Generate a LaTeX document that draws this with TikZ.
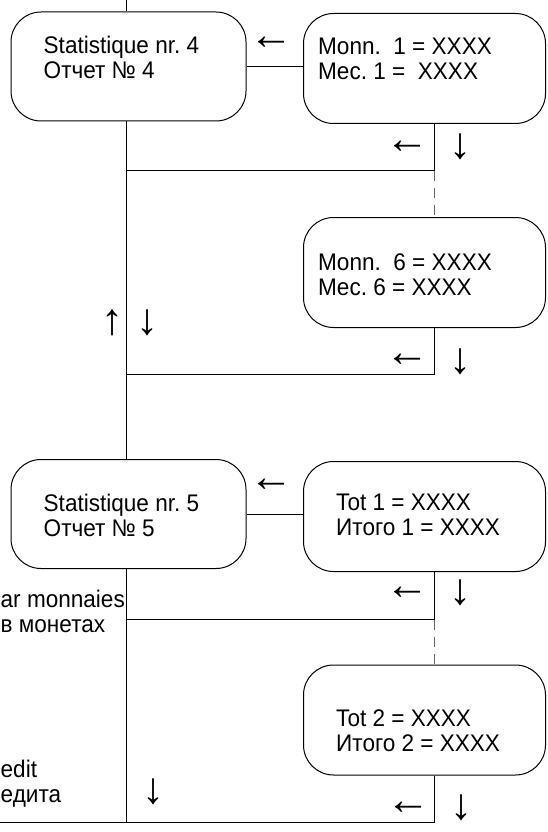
\documentclass[tikz,border=0pt]{standalone}
\usepackage{fontspec}
\setmainfont{Liberation Sans}[FakeStretch=0.94]
\newfontfamily\arrowfont{Liberation Sans}
\usetikzlibrary{positioning,calc}
\frenchspacing

\begin{document}
\begin{tikzpicture}[
            x=1pt, y=-1pt,
            box/.style={rectangle, draw, line width=1pt, rounded corners=30pt,
                       minimum width=235pt, minimum height=109pt},
            panel/.style={box, minimum width=242pt, minimum height=110pt},
            txt/.style={anchor=north west, inner sep=0pt, align=left,
                       font=\fontsize{24}{25}\selectfont},
            sym/.style={inner sep=0pt, font=\arrowfont\fontsize{44}{44}\selectfont},
            wire/.style={line width=1pt},
            gap/.style={line width=1pt, draw=black!60, dash pattern=on 10pt off 7pt}
        ]
            \useasboundingbox (0,0) rectangle (548,832);

            % Left column
            \coordinate (top) at (126.5,0);
            \coordinate (bot) at (0,822);
            \node[box] (stat4) at (128.5,66.5) {};
            \node[box] (stat5) at (128.5,514) {};

            % Right column
            \node[panel] (mon1) at (424.5,68.5) {};
            \node[panel] (mon6) at (424.5,272.5) {};
            \node[panel] (tot1) at (424.5,516.5) {};
            \node[panel] (tot2) at (424.5,720) {};

            % Texts
            \node[txt] (stat4t) at (43.5,35.8) {Statistique nr. 4\\Отчет № 4};
            \node[txt] (mon1t) at (318,37.8) {Monn.\ \ 1 = XXXX\\Mec. 1 =\ \ XXXX};
            \node[txt] (mon6t) at (318,253.5) {Monn.\ \ 6 = XXXX\\Mec. 6 = XXXX};
            \node[txt] (stat5t) at (43.5,493.5) {Statistique nr. 5\\Отчет № 5};
            \node[txt] (tot1t) at (336,493.8) {Tot 1 = XXXX\\Итого 1 = XXXX};
            \node[txt] (tot2t) at (336,709.8) {Tot 2 = XXXX\\Итого 2 = XXXX};
            \node[txt] (coin) at (0.5,589.8) {ar monnaies\\в монетах};
            \node[txt] (credit) at (0.5,759.5) {edit\\едита};

            % Lines
            \coordinate (rc) at (434,0);
            \coordinate (j1) at (434,170.5);
            \coordinate (j2) at (434,374.5);
            \coordinate (j3) at (434,619.5);
            \coordinate (j4) at (434,822);
            \draw[wire] (top) -- (top |- stat4.north);
            \draw[wire] (stat4.south -| top) -- (stat5.north -| top);
            \draw[wire] (stat5.south -| top) -- (top |- bot);
            \draw[wire] (stat4.east) -- (stat4.east -| mon1.west);
            \draw[wire] (stat5.east) -- (stat5.east -| tot1.west);
            \draw[wire] (mon1.south -| rc) -- (j1) -- (j1 -| top);
            \draw[gap] (j1) -- (mon6.north -| rc);
            \draw[wire] (mon6.south -| rc) -- (j2) -- (j2 -| top);
            \draw[wire] (tot1.south -| rc) -- (j3) -- (j3 -| top);
            \draw[gap] (j3) -- (tot2.north -| rc);
            \draw[wire] (tot2.south -| rc) -- (j4) -- (bot);

            % Arrow signs
            \node[sym] (a1) at (271.5,43) {←};
            \node[sym] (a2) at (407,147) {←};
            \node[sym] (a3) at (460,147) {↓};
            \node[sym] (a4) at (112,323) {↑};
            \node[sym] (a5) at (147,323) {↓};
            \node[sym] (a6) at (407,360) {←};
            \node[sym] (a7) at (460,362) {↓};
            \node[sym] (a8) at (271.5,485) {←};
            \node[sym] (a9) at (407,593) {←};
            \node[sym] (a10) at (460,593) {↓};
            \node[sym] (a11) at (153,792) {↓};
            \node[sym] (a12) at (408,808) {←};
            \node[sym] (a13) at (461,808) {↓};
        \end{tikzpicture}
\end{document}
